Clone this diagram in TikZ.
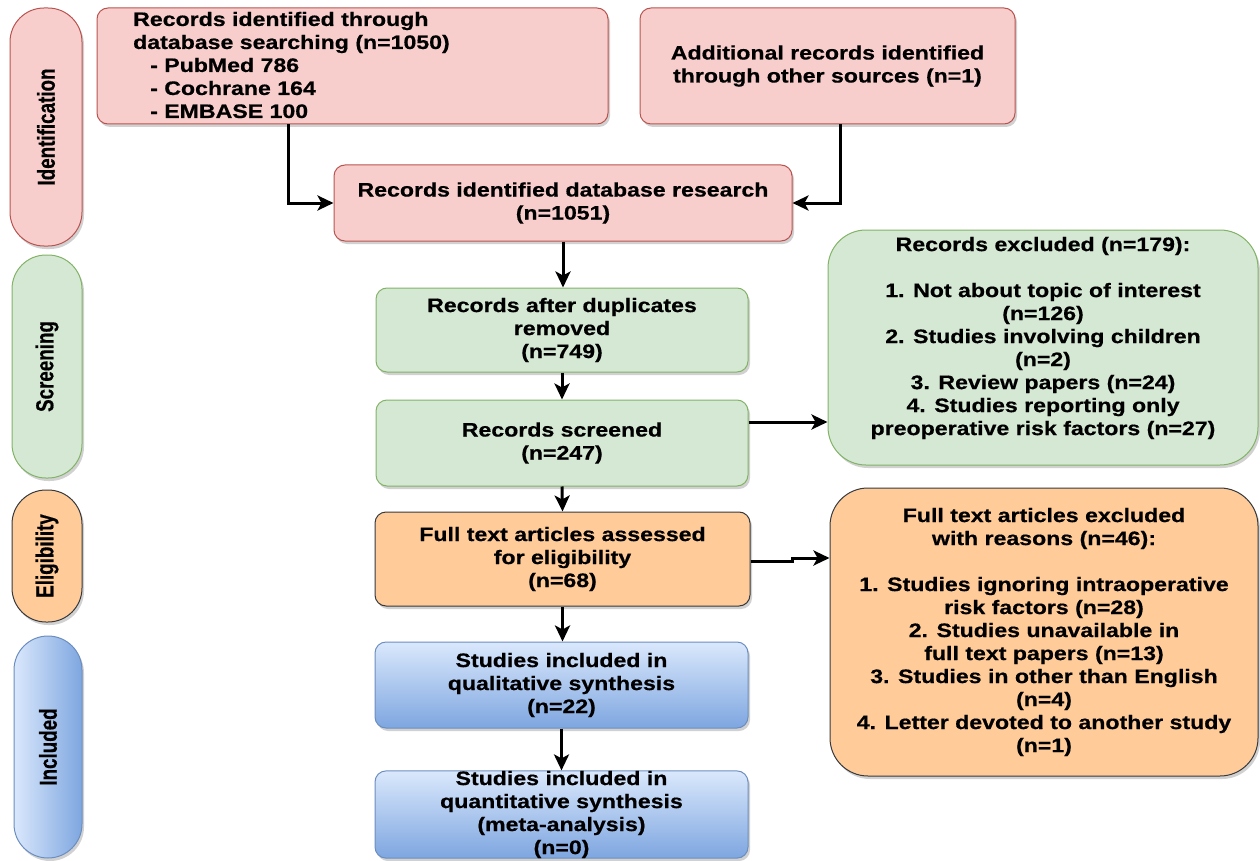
\documentclass[tikz,border=0pt]{standalone}
\usepackage{fontspec}
\usepackage{graphicx}
\newfontfamily\bx{Liberation Sans}[FakeStretch=1.185,FakeBold=0.6]
\newfontfamily\lb{Liberation Sans}[FakeBold=0.6]
\usetikzlibrary{shadows,arrows.meta,calc}
\definecolor{pinkF}{HTML}{F8CECC}
\definecolor{pinkD}{HTML}{B85450}
\definecolor{greenF}{HTML}{D5E8D4}
\definecolor{greenD}{HTML}{82B366}
\definecolor{orangeF}{HTML}{FFCC99}
\definecolor{orangeD}{HTML}{36393D}
\definecolor{blueL}{HTML}{DAE8FC}
\definecolor{blueM}{HTML}{7EA6E0}
\definecolor{blueD}{HTML}{6C8EBF}
\tikzset{
  shad/.style={drop shadow={shadow xshift=2pt,shadow yshift=-3pt,opacity=0.3,fill=black!60}},
  box/.style={shad,draw,line width=1pt,rounded corners=11pt,align=center,inner sep=0pt,
    font={\bx\bfseries\fontsize{19.5}{23}\selectfont}},
  bigbox/.style={box,rounded corners=38pt},
  pill/.style={shad,draw,line width=1pt,rounded corners=34pt,inner sep=0pt},
  lbl/.style={rotate=90,inner sep=0pt,font={\lb\bfseries\fontsize{18.8}{23}\selectfont}},
  txt/.style={inner sep=0pt,align=left,font={\bx\bfseries\fontsize{19.5}{23}\selectfont}},
  pinkbox/.style={fill=pinkF,draw=pinkD},
  greenbox/.style={fill=greenF,draw=greenD},
  orangebox/.style={fill=orangeF,draw=orangeD},
  bluebox/.style={top color=blueL,bottom color=blueM,draw=blueD},
  arr/.style={line width=3pt,-{Stealth[length=16pt,width=15pt,inset=4pt]}},
}
\begin{document}
\begin{tikzpicture}[x=1pt,y=-1pt]
\useasboundingbox (0,0) rectangle (1260,861);
% side pills
\node[pill,pinkbox,minimum width=72,minimum height=238] (pI) at (46,127) {};
\node[lbl] (lI) at (pI) {\scalebox{1}[1.3]{Identification}};
\node[pill,greenbox,minimum width=70,minimum height=223] (pS) at (47,366.5) {};
\node[lbl] (lS) at (pS) {\scalebox{1}[1.3]{Screening}};
\node[pill,orangebox,minimum width=70,minimum height=132] (pE) at (47,556) {};
\node[lbl] (lE) at (pE) {\scalebox{1}[1.3]{Eligibility}};
\node[pill,left color=blueL,right color=blueM,draw=blueD,minimum width=68,minimum height=222] (pN) at (48,747) {};
\node[lbl] (lN) at (pN) {\scalebox{1}[1.3]{Included}};
% boxes
\node[box,pinkbox,minimum width=511,minimum height=116] (A) at (352.5,66) {};
\node[txt,anchor=west] (At) at (133,65) {Records identified through\\database searching (n=1050)\\\hspace*{17pt}- PubMed 786\\\hspace*{17pt}- Cochrane 164\\\hspace*{17pt}- EMBASE 100};
\node[box,pinkbox,minimum width=375,minimum height=116] (B) at (827.5,66) {Additional records identified\\through other sources (n=1)};
\node[box,pinkbox,minimum width=458,minimum height=76] (C) at (563,203) {Records identified database research\\(n=1051)};
\node[box,greenbox,minimum width=372,minimum height=84] (D) at (562,330) {Records after duplicates\\removed\\(n=749)};
\node[box,greenbox,minimum width=372,minimum height=86] (E) at (562,443) {Records screened\\(n=247)};
\node[box,orangebox,minimum width=375,minimum height=94] (F) at (562.5,559) {Full text articles assessed\\for eligibility\\(n=68)};
\node[box,bluebox,minimum width=373,minimum height=86] (G) at (561.5,685) {Studies included in\\qualitative synthesis\\(n=22)};
\node[box,bluebox,minimum width=373,minimum height=87] (H) at (561.5,814.5) {Studies included in\\quantitative synthesis\\(meta-analysis)\\(n=0)};
\node[bigbox,greenbox,minimum width=430,minimum height=235] (R1) at (1043,347.5) {Records excluded (n=179):\\[23pt]1. Not about topic of interest\\(n=126)\\2. Studies involving children\\(n=2)\\3. Review papers (n=24)\\4. Studies reporting only\\preoperative risk factors (n=27)\\\mbox{}};
\node[bigbox,orangebox,minimum width=428,minimum height=288] (R2) at (1044,632) {Full text articles excluded\\with reasons (n=46):\\[23pt]1. Studies ignoring intraoperative\\risk factors (n=28)\\2. Studies unavailable in\\full text papers (n=13)\\3. Studies in other than English\\(n=4)\\4. Letter devoted to another study\\(n=1)};
% connectors
\draw[arr] ([xshift=-64.5pt]A.south) |- (C.west);
\draw[arr] ([xshift=12.5pt]B.south) |- (C.east);
\draw[arr] (C.south) -- (C.south |- D.north);
\draw[arr] (D.south) -- (E.north);
\coordinate (e1) at ($(E.east)+(0,-21)$);
\draw[arr] (e1) -- (e1 -| R1.west);
\draw[arr] (E.south) -- (F.north);
\coordinate (f1) at ($(F.east)+(0,2)$);
\coordinate (f2) at ($(f1)+(42,-3)$);
\draw[arr] (f1) -- (f1 -| f2) -- (f2) -- (f2 -| R2.west);
\draw[arr] (F.south) -- (F.south |- G.north);
\draw[arr] (G.south) -- (H.north);
\end{tikzpicture}
\end{document}
